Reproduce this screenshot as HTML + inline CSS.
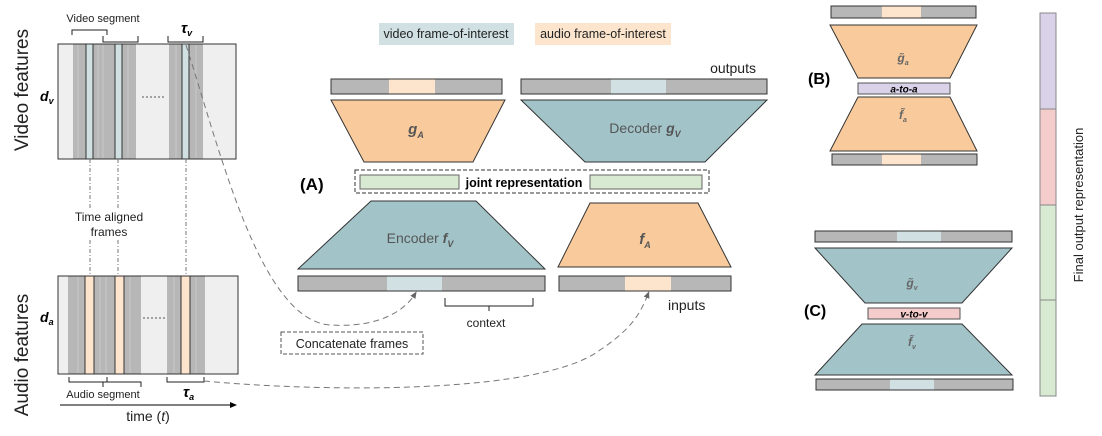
<!DOCTYPE html>
<html><head><meta charset="utf-8"><style>
html,body{margin:0;padding:0;background:#fff;}
svg{display:block;font-family:"Liberation Sans",sans-serif;}
</style></head><body>
<svg width="1102" height="436" viewBox="0 0 1102 436" xmlns="http://www.w3.org/2000/svg">
<defs>
<marker id="ar" markerWidth="8" markerHeight="8" refX="4" refY="4" orient="auto"><path d="M0,1 L7,4 L0,7 Z" fill="#666"/></marker>
<marker id="ta" markerWidth="8" markerHeight="8" refX="6" refY="4" orient="auto"><path d="M0,1 L7,4 L0,7 Z" fill="#000"/></marker>
</defs>
<!-- legend -->
<rect x="379" y="23" width="135" height="22" fill="#d0e0e3"/>
<text x="446" y="38" font-size="12.5" text-anchor="middle" fill="#222">video frame-of-interest</text>
<rect x="535" y="23" width="136" height="22" fill="#fde5cd"/>
<text x="603" y="38" font-size="12.5" text-anchor="middle" fill="#222">audio frame-of-interest</text>

<!-- rotated labels -->
<text transform="translate(28,90) rotate(-90)" font-size="19" text-anchor="middle" fill="#222">Video features</text>
<text transform="translate(28,355) rotate(-90)" font-size="19" text-anchor="middle" fill="#222">Audio features</text>
<text x="40" y="101" font-size="14" font-weight="bold" font-style="italic">d<tspan font-size="9" dy="3">v</tspan></text>
<text x="40" y="322" font-size="14" font-weight="bold" font-style="italic">d<tspan font-size="9" dy="3">a</tspan></text>

<!-- video features box -->
<rect x="58" y="44" width="178" height="115" fill="#efefef" stroke="#333"/>
<rect x="73" y="44.5" width="63" height="114" fill="#b7b7b7"/>
<rect x="169" y="44.5" width="34" height="114" fill="#b7b7b7"/>
<g stroke="#c9c9c9" stroke-width="1"><line x1="78" y1="45" x2="78" y2="158"/><line x1="98" y1="45" x2="98" y2="158"/><line x1="103" y1="45" x2="103" y2="158"/><line x1="128" y1="45" x2="128" y2="158"/><line x1="176" y1="45" x2="176" y2="158"/><line x1="196" y1="45" x2="196" y2="158"/></g>
<rect x="86" y="44" width="7" height="115" fill="#d0e0e3" stroke="#333"/>
<rect x="115" y="44" width="7" height="115" fill="#d0e0e3" stroke="#333"/>
<rect x="182" y="44" width="7" height="115" fill="#d0e0e3" stroke="#333"/>
<line x1="142" y1="97" x2="164" y2="97" stroke="#555" stroke-dasharray="2,2"/>
<g fill="none" stroke="#222"><path d="M72,35 V30 H107 V35"/><path d="M103,36 V42 H138 V36"/><path d="M168,36 V42 H203 V36"/></g>
<text x="103" y="22" font-size="11" text-anchor="middle" fill="#222">Video segment</text>
<text x="181" y="33" font-size="15" font-weight="bold" font-style="italic">τ<tspan font-size="9" dy="3">v</tspan></text>

<!-- dash-dot lines -->
<g stroke="#777" stroke-dasharray="4,2,1,2"><line x1="90" y1="159" x2="90" y2="276"/><line x1="118" y1="159" x2="118" y2="276"/><line x1="186" y1="159" x2="186" y2="276"/></g>
<rect x="70" y="209" width="78" height="30" fill="#fff"/>
<text x="109" y="221" font-size="12" text-anchor="middle" fill="#222">Time aligned</text>
<text x="109" y="236" font-size="12" text-anchor="middle" fill="#222">frames</text>

<!-- audio box -->
<rect x="58" y="276" width="180" height="98" fill="#efefef" stroke="#333"/>
<rect x="68" y="276.5" width="73" height="97" fill="#b7b7b7"/>
<rect x="167" y="276.5" width="38" height="97" fill="#b7b7b7"/>
<g stroke="#c9c9c9"><line x1="78" y1="277" x2="78" y2="373"/><line x1="100" y1="277" x2="100" y2="373"/><line x1="106" y1="277" x2="106" y2="373"/><line x1="130" y1="277" x2="130" y2="373"/><line x1="174" y1="277" x2="174" y2="373"/><line x1="196" y1="277" x2="196" y2="373"/></g>
<rect x="85" y="276" width="9" height="98" fill="#fde5cd" stroke="#333"/>
<rect x="115" y="276" width="9" height="98" fill="#fde5cd" stroke="#333"/>
<rect x="181" y="276" width="9" height="98" fill="#fde5cd" stroke="#333"/>
<line x1="143" y1="318" x2="165" y2="318" stroke="#555" stroke-dasharray="2,2"/>
<g fill="none" stroke="#222"><path d="M69,377 V382 H107 V377"/><path d="M103,387 V382 M103,382 H141 V387" /><path d="M167,377 V382 H204 V377"/></g>
<text x="103" y="398" font-size="11" text-anchor="middle" fill="#222">Audio segment</text>
<text x="183" y="397" font-size="15" font-weight="bold" font-style="italic">τ<tspan font-size="9" dy="3">a</tspan></text>
<line x1="60" y1="405" x2="236" y2="405" stroke="#000" marker-end="url(#ta)"/>
<text x="148" y="421" font-size="14" text-anchor="middle" fill="#222">time (<tspan font-style="italic">t</tspan>)</text>

<!-- curves -->
<path d="M186,45 C220,150 260,320 330,325 C380,328 405,310 415,294" fill="none" stroke="#777" stroke-dasharray="6,4" marker-end="url(#ar)"/>
<path d="M204,381 C320,392 540,395 600,350 C630,330 640,315 648,294" fill="none" stroke="#777" stroke-dasharray="6,4" marker-end="url(#ar)"/>

<!-- A: top -->
<text x="756" y="73" font-size="14" text-anchor="end" fill="#222">outputs</text>
<rect x="331" y="79" width="171" height="15" fill="#b7b7b7" stroke="#333"/>
<rect x="389" y="79.5" width="46" height="14" fill="#fde5cd"/>
<rect x="521" y="79" width="246" height="15" fill="#b7b7b7" stroke="#333"/>
<rect x="611" y="79.5" width="55" height="14" fill="#d0e0e3"/>
<polygon points="331,100 505,100 473,162 364,162" fill="#f9cb9c" stroke="#333"/>
<text x="416" y="134" font-size="15" font-weight="bold" font-style="italic" text-anchor="middle" fill="#555">g<tspan font-size="9" dy="4">A</tspan></text>
<polygon points="521,100 767,100 705,162 585,162" fill="#a2c4c9" stroke="#333"/>
<text x="645" y="133" font-size="14" text-anchor="middle" fill="#555">Decoder <tspan font-weight="bold" font-style="italic">g</tspan><tspan font-size="9" dy="4" font-weight="bold" font-style="italic">V</tspan></text>

<text x="300" y="190" font-size="17" font-weight="bold">(A)</text>
<rect x="355" y="170" width="354" height="23" fill="none" stroke="#333" stroke-dasharray="4,2"/>
<rect x="360" y="175" width="99" height="14" fill="#d9ead3" stroke="#666"/>
<rect x="590" y="175" width="112" height="14" fill="#d9ead3" stroke="#666"/>
<text x="524" y="187" font-size="12.5" font-weight="bold" text-anchor="middle">joint representation</text>

<polygon points="371,201 476,201 545,269 298,269" fill="#a2c4c9" stroke="#333"/>
<text x="420" y="243" font-size="14" text-anchor="middle" fill="#555">Encoder <tspan font-weight="bold" font-style="italic">f</tspan><tspan font-size="9" dy="4" font-weight="bold" font-style="italic">V</tspan></text>
<polygon points="590,203 698,203 731,267 558,267" fill="#f9cb9c" stroke="#333"/>
<text x="645" y="244" font-size="15" font-weight="bold" font-style="italic" text-anchor="middle" fill="#555">f<tspan font-size="9" dy="4">A</tspan></text>
<rect x="298" y="276" width="247" height="15" fill="#b7b7b7" stroke="#333"/>
<rect x="387" y="276.5" width="55" height="14" fill="#d0e0e3"/>
<rect x="559" y="276" width="172" height="15" fill="#b7b7b7" stroke="#333"/>
<rect x="625" y="276.5" width="46" height="14" fill="#fde5cd"/>
<text x="668" y="310" font-size="14" fill="#222">inputs</text>
<path d="M445,298 V306 H489 V311 M489,306 H533 V298" fill="none" stroke="#222"/>
<text x="486" y="327" font-size="12" text-anchor="middle" fill="#222">context</text>
<rect x="281" y="332" width="142" height="22" fill="none" stroke="#555" stroke-dasharray="4,2"/>
<text x="352" y="348" font-size="12.5" text-anchor="middle" fill="#222">Concatenate frames</text>

<!-- B -->
<rect x="831" y="6" width="145" height="12" fill="#b7b7b7" stroke="#333"/>
<rect x="882" y="6.5" width="39" height="11" fill="#fde5cd"/>
<polygon points="830,25 977,25 950,78 858,78" fill="#f9cb9c" stroke="#333"/>
<text x="903" y="62" font-size="12" font-style="italic" font-weight="bold" text-anchor="middle" fill="#666">g̃<tspan font-size="7" dy="3">a</tspan></text>
<text x="808" y="84" font-size="16" font-weight="bold">(B)</text>
<rect x="858" y="83" width="92" height="11" fill="#d9d2e9" stroke="#555"/>
<text x="904" y="92.5" font-size="10" font-weight="bold" font-style="italic" text-anchor="middle">a-to-a</text>
<polygon points="858,97 950,97 977,151 830,151" fill="#f9cb9c" stroke="#333"/>
<text x="903" y="119" font-size="12" font-style="italic" font-weight="bold" text-anchor="middle" fill="#666">f̃<tspan font-size="7" dy="3">a</tspan></text>
<rect x="832" y="154" width="145" height="11" fill="#b7b7b7" stroke="#333"/>
<rect x="882" y="154.5" width="39" height="10" fill="#fde5cd"/>

<!-- C -->
<rect x="815" y="231" width="197" height="11" fill="#b7b7b7" stroke="#333"/>
<rect x="897" y="231.5" width="44" height="10" fill="#d0e0e3"/>
<polygon points="815,248 1012,248 962,303 865,303" fill="#a2c4c9" stroke="#333"/>
<text x="912" y="287" font-size="12" font-style="italic" font-weight="bold" text-anchor="middle" fill="#666">g̃<tspan font-size="7" dy="3">v</tspan></text>
<text x="804" y="316" font-size="16" font-weight="bold">(C)</text>
<rect x="868" y="308" width="92" height="11" fill="#f4cccc" stroke="#555"/>
<text x="914" y="317.5" font-size="10" font-weight="bold" font-style="italic" text-anchor="middle">v-to-v</text>
<polygon points="862,324 962,324 1012,375 815,375" fill="#a2c4c9" stroke="#333"/>
<text x="912" y="346" font-size="12" font-style="italic" font-weight="bold" text-anchor="middle" fill="#666">f̃<tspan font-size="7" dy="3">v</tspan></text>
<rect x="816" y="379" width="197" height="11" fill="#b7b7b7" stroke="#333"/>
<rect x="890" y="379.5" width="44" height="10" fill="#d0e0e3"/>

<!-- final column -->
<rect x="1040" y="13" width="16" height="96" fill="#d9d2e9" stroke="#888"/>
<rect x="1040" y="109" width="16" height="96" fill="#f4cccc" stroke="#888"/>
<rect x="1040" y="205" width="16" height="95" fill="#d9ead3" stroke="#888"/>
<rect x="1040" y="300" width="16" height="96" fill="#d9ead3" stroke="#888"/>
<text transform="translate(1083,205) rotate(-90)" font-size="13" text-anchor="middle" fill="#222">Final output representation</text>
</svg>
</body></html>
